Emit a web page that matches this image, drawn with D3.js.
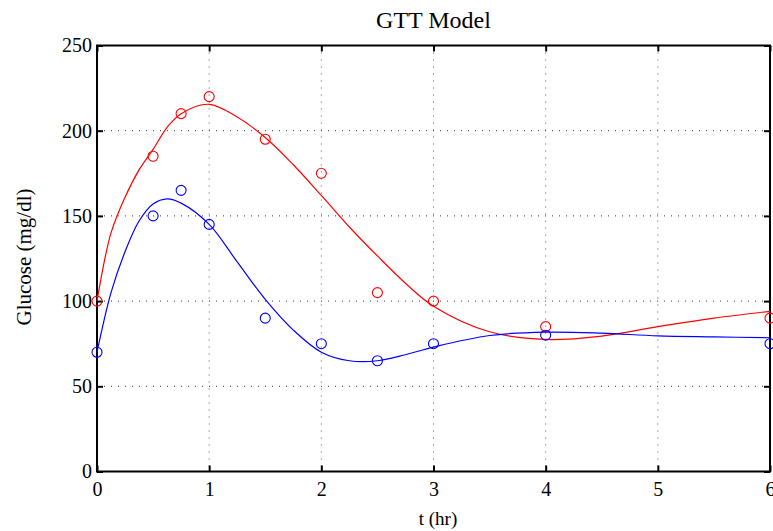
<!DOCTYPE html>
<html>
<head>
<meta charset="utf-8">
<script src="https://cdn.jsdelivr.net/npm/d3@7"></script>
<style>
  body { margin: 0; background: #fff; }
  text { font-family: "Liberation Serif", "Times New Roman", serif; fill: #000; }
</style>
</head>
<body>
<svg id="chart" width="773" height="531"></svg>
<script>
// measured data points (t in hr, glucose in mg/dl)
let obsT = [0, 0.5, 0.75, 1, 1.5, 2, 2.5, 3, 4, 6];
let obsRed = [100, 185, 210, 220, 195, 175, 105, 100, 85, 90];
let obsBlue = [70, 150, 165, 145, 90, 75, 65, 75, 80, 75];

// model curves
let modelT = [0, 0.125, 0.25, 0.375, 0.5, 0.625, 0.75, 1, 1.25, 1.5, 1.75, 2, 2.25, 2.5, 2.75, 3, 3.5, 4, 4.5, 5, 5.5, 6];
let modelRed = [100, 140, 161, 177, 189, 202, 210, 215.5, 208, 196, 180, 162, 143.5, 126.5, 110.5, 97, 82, 77.5, 79.5, 85, 90, 94];
let modelBlue = [70, 105, 129, 147, 157, 160, 157.5, 145, 123, 101, 83, 70, 65, 65, 68.5, 73, 79.8, 81.8, 81.2, 79.6, 79, 78.5];

let xTicks = [0, 1, 2, 3, 4, 5, 6];
let yTicks = [0, 50, 100, 150, 200, 250];

let svg = d3.select("#chart");
let pLeft = 97, pRight = 770, pTop = 45.5, pBottom = 471.5;

let x = d3.scaleLinear().domain([0, 6]).range([pLeft, pRight]);
let y = d3.scaleLinear().domain([0, 250]).range([pBottom, pTop]);

// grid
svg.append("g").selectAll("line")
    .data(xTicks.slice(1, -1))
    .enter().append("line")
    .attr("x1", d => x(d)).attr("x2", d => x(d))
    .attr("y1", pTop).attr("y2", pBottom)
    .style("stroke", "#555").style("stroke-width", 1)
    .style("stroke-dasharray", "1,6");
svg.append("g").selectAll("line")
    .data(yTicks.slice(1, -1))
    .enter().append("line")
    .attr("x1", pLeft).attr("x2", pRight)
    .attr("y1", d => y(d)).attr("y2", d => y(d))
    .style("stroke", "#333").style("stroke-width", 1)
    .style("stroke-dasharray", "1,6");

// axes with inward ticks on all four sides
let tk = 6;
let fmt = d3.format("d");
let serif = "'Liberation Serif', 'Times New Roman', serif";
svg.append("g").attr("transform", "translate(0," + pBottom + ")")
    .call(d3.axisBottom(x).tickValues(xTicks).tickFormat(fmt).tickSizeInner(-tk).tickSizeOuter(0).tickPadding(10))
    .call(g => g.select(".domain").remove());
svg.append("g").attr("transform", "translate(0," + pTop + ")")
    .call(d3.axisTop(x).tickValues(xTicks).tickSizeInner(-tk).tickSizeOuter(0).tickFormat(""))
    .call(g => g.select(".domain").remove());
svg.append("g").attr("transform", "translate(" + pLeft + ",0)")
    .call(d3.axisLeft(y).tickValues(yTicks).tickFormat(fmt).tickSizeInner(-tk).tickSizeOuter(0).tickPadding(5))
    .call(g => g.select(".domain").remove());
svg.append("g").attr("transform", "translate(" + pRight + ",0)")
    .call(d3.axisRight(y).tickValues(yTicks).tickSizeInner(-tk).tickSizeOuter(0).tickFormat(""))
    .call(g => g.select(".domain").remove());

svg.selectAll(".tick line").style("stroke", "#000").style("stroke-width", 2);
svg.selectAll(".tick text")
    .attr("font-family", serif).style("font-family", serif)
    .attr("font-size", 20).style("font-size", "20px");

svg.append("rect")
    .attr("x", pLeft).attr("y", pTop)
    .attr("width", pRight - pLeft).attr("height", pBottom - pTop)
    .style("fill", "none").style("stroke", "#000").style("stroke-width", 2);

// model lines
let line = (vals) => d3.line()
    .x((d, i) => x(modelT[i]))
    .y(d => y(d))
    .curve(d3.curveCatmullRom.alpha(0.5))(vals);

let series = [
    {model: modelRed, obs: obsRed, color: "#ff0000"},
    {model: modelBlue, obs: obsBlue, color: "#0000ff"}
];

series.forEach(s => {
    svg.append("path")
        .attr("d", line(s.model))
        .style("fill", "none").style("stroke", s.color).style("stroke-width", 1.2);
    svg.append("g").selectAll("circle")
        .data(s.obs)
        .enter().append("circle")
        .attr("cx", (d, i) => x(obsT[i]))
        .attr("cy", d => y(d))
        .attr("r", 5)
        .style("fill", "none").style("stroke", s.color).style("stroke-width", 1.1);
});

// labels
svg.append("text")
    .attr("x", (pLeft + pRight) / 2).attr("y", 28)
    .attr("text-anchor", "middle")
    .style("font-size", "24px")
    .text("GTT Model");

svg.append("text")
    .attr("x", 438).attr("y", 525)
    .attr("text-anchor", "middle")
    .style("font-size", "19px")
    .text("t (hr)");

svg.append("text")
    .attr("transform", "translate(31," + 257 + ") rotate(-90)")
    .attr("text-anchor", "middle")
    .style("font-size", "21px")
    .text("Glucose (mg/dl)");
</script>
</body>
</html>
